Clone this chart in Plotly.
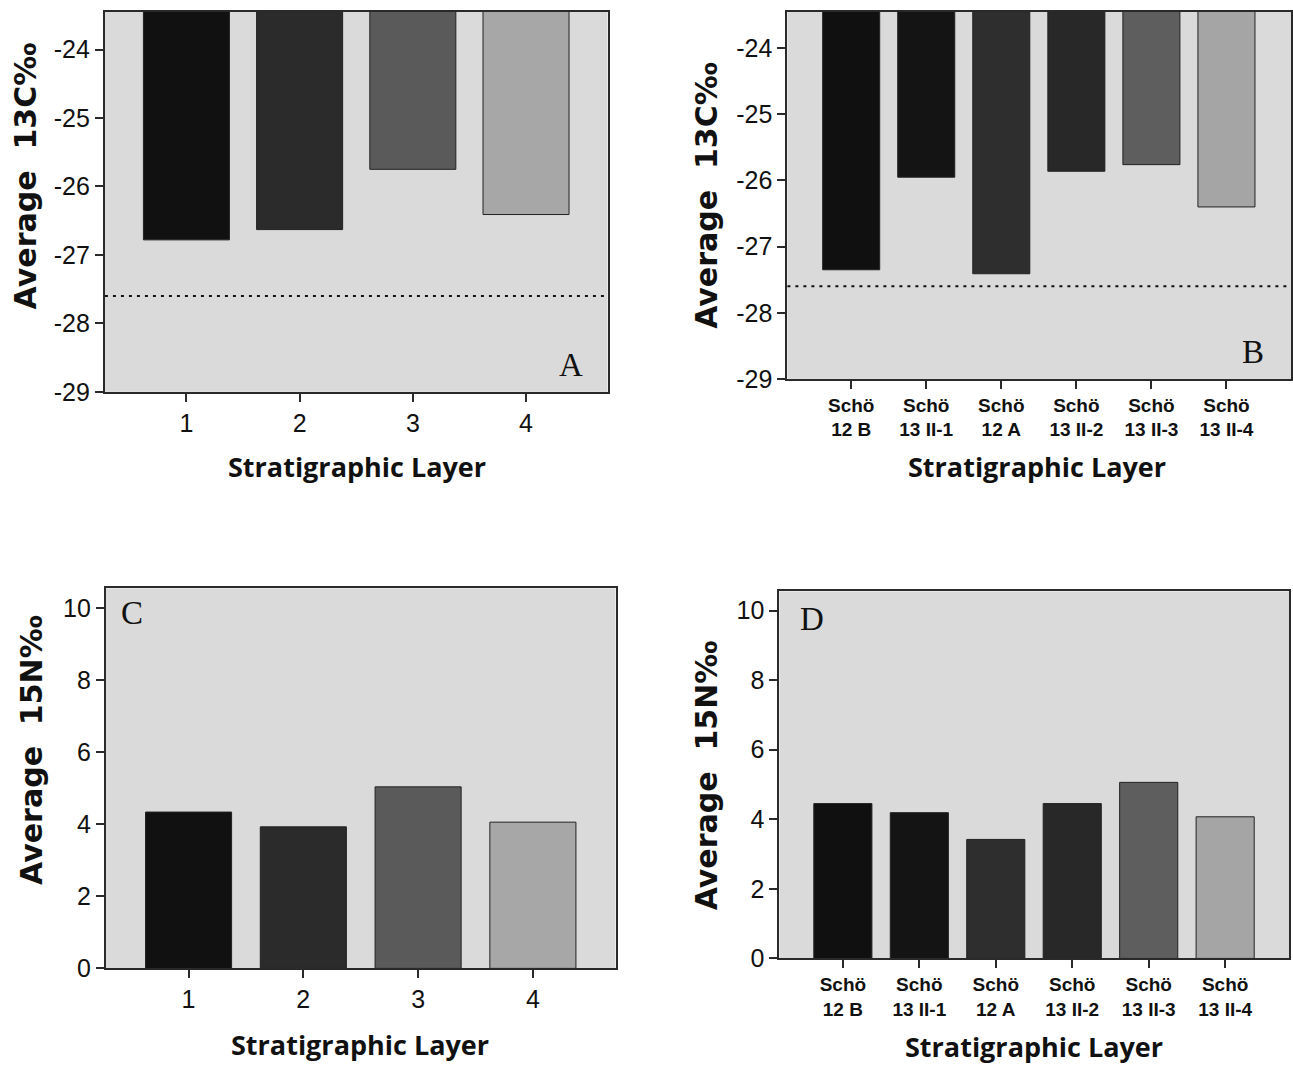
import plotly.graph_objects as go

# ---------------- data ----------------
layers_num = ["1", "2", "3", "4"]
layers_site = ["Schö<br>12 B", "Schö<br>13 II-1", "Schö<br>12 A",
               "Schö<br>13 II-2", "Schö<br>13 II-3", "Schö<br>13 II-4"]

c13_layer = [-26.78, -26.63, -25.75, -26.41]
c13_site = [-27.35, -25.95, -27.41, -25.86, -25.76, -26.40]
n15_layer = [4.34, 3.93, 5.04, 4.06]
n15_site = [4.45, 4.19, 3.42, 4.45, 5.06, 4.07]

c13_ref_line = -27.6

colors_layer = ["#111111", "#2b2b2b", "#5a5a5a", "#a7a7a7"]
colors_site = ["#101010", "#141414", "#2e2e2e", "#282828", "#5e5e5e", "#a5a5a5"]

c13_ticks = [-24, -25, -26, -27, -28, -29]
c13_ticktext = ["-24", "-25", "-26", "-27", "-28", "-29"]
n15_ticks = [0, 2, 4, 6, 8, 10]
n15_ticktext = ["0", "2", "4", "6", "8", "10"]

W, H = 1293, 1066

fig = go.Figure()

bar_line = dict(color="#222222", width=1)

fig.add_trace(go.Bar(x=layers_num, y=c13_layer, marker=dict(color=colors_layer, line=bar_line),
                     width=0.76, xaxis="x", yaxis="y", showlegend=False))
fig.add_trace(go.Bar(x=layers_site, y=c13_site, marker=dict(color=colors_site, line=bar_line),
                     width=0.76, xaxis="x2", yaxis="y2", showlegend=False))
fig.add_trace(go.Bar(x=layers_num, y=n15_layer, marker=dict(color=colors_layer, line=bar_line),
                     width=0.75, xaxis="x3", yaxis="y3", showlegend=False))
fig.add_trace(go.Bar(x=layers_site, y=n15_site, marker=dict(color=colors_site, line=bar_line),
                     width=0.76, xaxis="x4", yaxis="y4", showlegend=False))

# reference dotted lines (A and B)
dot_line = dict(color="#111111", width=2, dash="3px,5px")
for xr, yr in (("x domain", "y"), ("x2 domain", "y2")):
    fig.add_shape(type="line", xref=xr, yref=yr, x0=0, x1=1,
                  y0=c13_ref_line, y1=c13_ref_line, line=dot_line)

# layout helpers: convert pixel positions to paper fractions
Y_SCALE = 0.9894
Y_SHIFT = -0.88

def px(x):
    return x / W

def py(y):
    return 1 - ((y - Y_SHIFT) / Y_SCALE) / H

axis_common = dict(showline=True, mirror=True, linecolor="#2a2a2a", linewidth=2,
                   ticks="outside", ticklen=8, tickwidth=1.5, tickcolor="#2a2a2a",
                   showgrid=False, zeroline=False, fixedrange=True)

tick_font = dict(family="Liberation Sans, Arial, sans-serif", size=25, color="#111111")
site_font = dict(family="Liberation Sans, Arial, sans-serif", size=19, color="#111111",
                 weight="bold")

layout = dict(
    width=W, height=H,
    margin=dict(l=0, r=0, t=0, b=0),
    paper_bgcolor="white", plot_bgcolor="#dadada",
    xaxis=dict(axis_common, domain=[px(105), px(608)], anchor="y", type="category",
               range=[-0.72, 3.72], tickfont=tick_font),
    yaxis=dict(axis_common, domain=[py(392), py(11)], anchor="x",
               range=[-29, -23.45], tickvals=c13_ticks, ticktext=c13_ticktext,
               tickfont=tick_font),
    xaxis2=dict(axis_common, domain=[px(788), px(1292)], anchor="y2", type="category",
                range=[-0.85, 5.86], tickfont=site_font),
    yaxis2=dict(axis_common, domain=[py(379), py(11)], anchor="x2",
                range=[-29, -23.45], tickvals=c13_ticks, ticktext=c13_ticktext,
                tickfont=tick_font),
    xaxis3=dict(axis_common, domain=[px(106), px(616)], anchor="y3", type="category",
                range=[-0.72, 3.72], tickfont=tick_font),
    yaxis3=dict(axis_common, domain=[py(970), py(589)], anchor="x3",
                range=[0, 10.55], tickvals=n15_ticks, ticktext=n15_ticktext,
                tickfont=tick_font),
    xaxis4=dict(axis_common, domain=[px(780), px(1290)], anchor="y4", type="category",
                range=[-0.83, 5.835], tickfont=site_font),
    yaxis4=dict(axis_common, domain=[py(960), py(592)], anchor="x4",
                range=[0, 10.55], tickvals=n15_ticks, ticktext=n15_ticktext,
                tickfont=tick_font),
)
fig.update_layout(**layout)

ytitle_font = dict(family="DejaVu Sans, Verdana, sans-serif", size=30, color="#111111", weight="bold")
xtitle_font = dict(family="Open Sans, Lato, sans-serif", size=27, color="#111111", weight="bold")
letter_font = dict(family="Liberation Serif, Times New Roman, serif", size=33, color="#111111")

c_title = "Average&nbsp;&nbsp;13C‰"
n_title = "Average&nbsp;&nbsp;15N‰"
x_title = "Stratigraphic Layer"

annotations = [
    # y titles
    dict(text=c_title, x=px(25), y=py(175), textangle=-90, font=ytitle_font),
    dict(text=c_title, x=px(707), y=py(195), textangle=-90, font=ytitle_font),
    dict(text=n_title, x=px(32), y=py(751), textangle=-90, font=ytitle_font),
    dict(text=n_title, x=px(707), y=py(776), textangle=-90, font=ytitle_font),
    # x titles
    dict(text=x_title, x=px(357), y=py(467), font=xtitle_font),
    dict(text=x_title, x=px(1038), y=py(467), font=xtitle_font),
    dict(text=x_title, x=px(360), y=py(1046), font=xtitle_font),
    dict(text=x_title, x=px(1035), y=py(1048), font=xtitle_font),
    # panel letters
    dict(text="A", x=px(571), y=py(365), font=letter_font),
    dict(text="B", x=px(1254), y=py(352), font=letter_font),
    dict(text="C", x=px(132), y=py(614), font=letter_font),
    dict(text="D", x=px(813), y=py(620), font=letter_font),
]
for a in annotations:
    a.update(xref="paper", yref="paper", showarrow=False, xanchor="center", yanchor="middle")
fig.update_layout(annotations=annotations)

fig.write_html(
    "out.html",
    config={"displayModeBar": False},
    post_script="document.body.style.margin='0';document.body.style.overflow='hidden';",
)
